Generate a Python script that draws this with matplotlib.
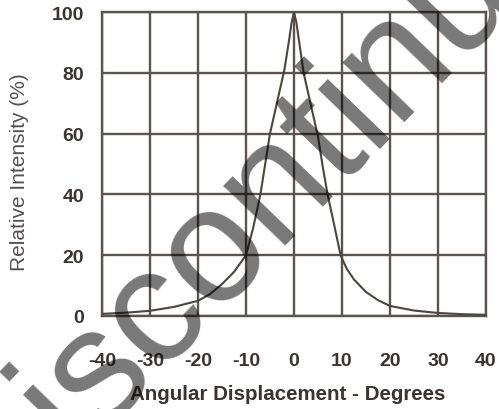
import matplotlib
matplotlib.use("Agg")
import matplotlib.pyplot as plt

angles = [-40, -35, -30, -25, -20, -17.5, -15, -12.5, -10, -8.5, -7, -6, -5, -4, -3, -2, -1, -0.5, 0,
          0.5, 1, 2, 3, 4, 5, 6, 7, 8.5, 9.7, 11, 12.5, 15, 17.5, 20, 25, 30, 35, 40]
intensity = [0.7, 1.1, 1.7, 3.0, 5.0, 7.2, 10.5, 14.5, 20, 29, 40, 50, 60, 67, 74, 81, 91, 96.5, 100,
             96.5, 91, 80, 73, 66, 59, 49, 40, 29, 20, 15.5, 12, 7.9, 5.2, 3.3, 1.8, 1.0, 0.6, 0.4]
xticks = [-40, -30, -20, -10, 0, 10, 20, 30, 40]
yticks = [0, 20, 40, 60, 80, 100]
xlabel = "Angular Displacement - Degrees"
ylabel = "Relative Intensity (%)"
watermark = "Discontinued"

plt.rcParams['font.family'] = ['Liberation Sans', 'DejaVu Sans']
plt.rcParams['axes.unicode_minus'] = False
W, H = 499, 410
fig = plt.figure(figsize=(W / 100, H / 100), dpi=100)
ax = fig.add_axes([102 / W, (H - 317) / H, 384 / W, 304 / H])

gc = '#5b534e'
ax.set_xlim(-40, 40)
ax.set_ylim(0, 100)
ax.set_xticks(xticks)
ax.set_yticks(yticks)
ax.grid(True, color=gc, linewidth=1.7)
ax.set_axisbelow(True)
for s in ax.spines.values():
    s.set_color(gc)
    s.set_linewidth(1.7)
ax.tick_params(length=0, labelsize=14, labelcolor='#3a3330')
ax.tick_params(axis='x', pad=26)
ax.tick_params(axis='y', pad=13)
for lab in ax.get_xticklabels() + ax.get_yticklabels():
    lab.set_fontweight('bold')

ax.plot(angles, intensity, color='#4d4540', linewidth=1.5, zorder=3)

ax.set_xlabel(xlabel, fontsize=14.8, color='#3a3330', fontweight='bold')
ax.xaxis.set_label_coords((288 - 102) / 384, -(395 - 317) / 304)
ax.xaxis.label.set_va('center')
ax.set_ylabel(ylabel, fontsize=15, color='#555050')
ax.yaxis.set_label_coords((20 - 102) / 384, (317 - 172) / 304)
ax.yaxis.label.set_va('center')

fig.text(318 / W, 1 - 198 / H, watermark, fontsize=117, color='black', alpha=0.53,
         rotation=46, ha='center', va='baseline', rotation_mode='anchor', zorder=10)

fig.savefig("out.png", dpi=100)
